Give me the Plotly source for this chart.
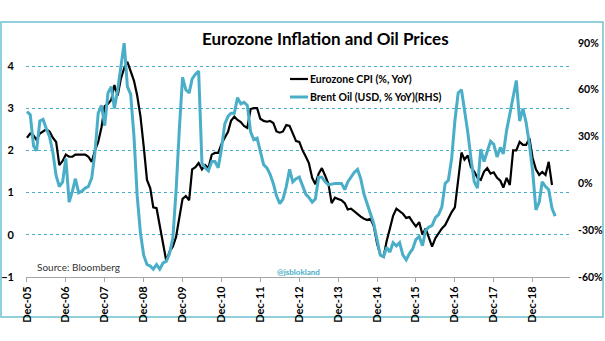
import pandas as pd
import plotly.graph_objects as go

# Monthly series, Dec 2005 onwards
start_month = "2005-12-01"

cpi_yoy = [
    2.3, 2.4, 2.35, 2.25, 2.4, 2.45, 2.5, 2.45, 2.3, 2.2, 1.65, 1.75,          # Dec05-Nov06
    1.9, 1.85, 1.85, 1.9, 1.9, 1.9, 1.9, 1.85, 1.73, 2.0, 2.2, 2.55,           # Dec06-Nov07
    3.05, 3.1, 3.2, 3.55, 3.3, 3.7, 3.95, 4.1, 3.85, 3.65, 3.3, 2.8,           # Dec07-Nov08
    2.1, 1.3, 1.1, 0.65, 0.63, 0.2, -0.2, -0.62, -0.4, -0.28, -0.05, 0.45,     # Dec08-Nov09
    0.85, 0.92, 0.82, 1.55, 1.6, 1.7, 1.55, 1.65, 1.58, 1.9, 1.94, 1.94,       # Dec09-Nov10
    2.15, 2.3, 2.44, 2.7, 2.8, 2.72, 2.67, 2.58, 2.53, 2.98, 3.0, 3.0,         # Dec10-Nov11
    2.75, 2.7, 2.68, 2.7, 2.65, 2.45, 2.42, 2.45, 2.6, 2.58, 2.38, 2.22,       # Dec11-Nov12
    2.2, 2.0, 1.85, 1.7, 1.35, 1.2, 1.45, 1.58, 1.4, 1.2, 0.75, 0.88,          # Dec12-Nov13
    0.85, 0.82, 0.75, 0.6, 0.62, 0.55, 0.5, 0.43, 0.38, 0.35, 0.38, 0.2,       # Dec13-Nov14
    -0.2, -0.48, -0.52, -0.15, 0.15, 0.45, 0.62, 0.55, 0.5, 0.4, 0.42, 0.3,    # Dec14-Nov15
    0.2, 0.3, 0.0, 0.15, -0.05, -0.28, -0.08, 0.05, 0.15, 0.23, 0.4, 0.54,     # Dec15-Nov16
    0.65, 1.35, 1.95, 1.78, 1.88, 1.6, 1.5, 1.35, 1.3, 1.5, 1.58, 1.45,        # Dec16-Nov17
    1.48, 1.35, 1.28, 1.12, 1.35, 1.18, 2.0, 2.0, 2.2, 2.13, 2.13, 2.29,       # Dec17-Nov18
    1.82, 1.55, 1.42, 1.49, 1.42, 1.73, 1.18,                                  # Dec18-Jun19
]

brent_yoy = [
    46, 44, 24, 21, 40, 41, 35, 30, 20, 5, -2, 1,                              # Dec05-Nov06
    16, -12, -5, 3, -6, -5, -3, -2, 3.5, 20, 45, 50,                           # Dec06-Nov07
    37, 58, 62, 48, 60, 75, 90, 62, 57, 30, -8, -32,                           # Dec07-Nov08
    -46, -52, -53, -55, -52, -55, -51, -50, -45, -35, -5, 35,                  # Dec08-Nov09
    68, 60, 58, 67, 70, 72, 13, 10, 8, 14, 14, 10,                             # Dec09-Nov10
    22, 38, 43, 45, 45, 55, 51, 52, 50, 33, 28, 29,                            # Dec10-Nov11
    20, 12, 10, 6, 0, -8, -13, -10, -2, 9, 1, 3,                               # Dec11-Nov12
    4, -2, -7, -9, -12, -10, 4, 4, 1, -1, -0.5, 0,                             # Dec12-Nov13
    0, 0, -4, 1, 4, 7, 9, 3, -7, -13, -19, -26,                                # Dec13-Nov14
    -36, -46, -47, -41, -44, -38, -40, -38, -46, -49, -45, -42,                # Dec14-Nov15
    -36, -34, -40, -30, -28, -27, -22, -20, -15, 0, 2, 16,                     # Dec15-Nov16
    40, 58, 60, 48, 33, 16, 1, -3, 22, 14, 21, 27,                             # Dec16-Nov17
    25, 17, 23, 19, 34, 45, 55, 66, 40, 48, 39, 25,                            # Dec17-Nov18
    8, -17, -12, 1, -2, -4, -16, -21,                                          # Dec18-Jul19
]

year_ticks = [f"{y}-12-01" for y in range(2005, 2019)]
left_ticks = [-1, 0, 1, 2, 3, 4]
right_ticks = [-60, -30, 0, 30, 60, 90]
right_tick_text = [f"{v}%" for v in right_ticks]

cpi_dates = pd.date_range(start_month, periods=len(cpi_yoy), freq="MS")
brent_dates = pd.date_range(start_month, periods=len(brent_yoy), freq="MS")

TEAL = "#4aaec8"
FRAME = "#6cc0d0"
FONT = "Lato"

fig = go.Figure()
fig.add_trace(go.Scatter(
    x=brent_dates, y=brent_yoy, yaxis="y2", mode="lines",
    name="Brent Oil (USD, % YoY)(RHS)", line=dict(color=TEAL, width=3),
    showlegend=False,
))
fig.add_trace(go.Scatter(
    x=cpi_dates, y=cpi_yoy, mode="lines",
    name="Eurozone CPI (%, YoY)", line=dict(color="#000000", width=2.2),
    showlegend=False,
))

# Plot area spans 26..570 px horizontally and 43..277 px vertically
L, R, T, B = 26, 570, 43, 277
W, H = R - L, B - T


def px(x):
    return (x - L) / W


def py(y):
    return (B - y) / H


fig.update_layout(
    width=605, height=341,
    margin=dict(l=L, r=605 - R, t=T, b=341 - B, pad=0, autoexpand=False),
    paper_bgcolor="white", plot_bgcolor="white",
    font=dict(family=FONT, size=10, color="#000000"),
    xaxis=dict(
        type="date", range=["2005-11-22", "2019-11-17"],
        tickvals=year_ticks, tickformat="%b-%y", tickangle=-90,
        tickfont=dict(family=FONT, size=11, color="#000000", weight="bold"),
        showgrid=False, zeroline=False, automargin=False,
        showline=True, linecolor="#a6a6a6", linewidth=1,
        ticks="outside", ticklen=4, tickcolor="#a6a6a6",
    ),
    yaxis=dict(
        range=[-1, 4.545], tickvals=left_ticks,
        tickfont=dict(family=FONT, size=11, color="#000000", weight="bold"),
        showgrid=True, gridcolor=TEAL, griddash="dot", gridwidth=1,
        zeroline=False, showline=False, ticks="", ticklabelstandoff=11,
        automargin=False,
    ),
    yaxis2=dict(
        range=[-60, 90], tickvals=right_ticks, ticktext=right_tick_text,
        overlaying="y", side="right",
        tickfont=dict(family=FONT, size=10.5, color="#000000", weight="bold"),
        showgrid=False, zeroline=False, showline=False, ticks="",
        ticklabelstandoff=7, automargin=False,
    ),
)

# Outer frame
fig.add_shape(type="rect", xref="paper", yref="paper",
              x0=px(1), x1=px(603), y0=py(317), y1=py(22),
              line=dict(color=FRAME, width=1.5), fillcolor="rgba(0,0,0,0)",
              layer="below")

# Title
fig.add_annotation(text="<b>Eurozone Inflation and Oil Prices</b>",
                   xref="paper", yref="paper", x=px(325), y=py(38),
                   showarrow=False, xanchor="center", yanchor="middle",
                   font=dict(family=FONT, size=17, color="#000000"))

# Legend
legend_items = [("Eurozone CPI (%, YoY)", "#000000", 2.2, 79),
                ("Brent Oil (USD, % YoY)(RHS)", TEAL, 3, 97)]
for label, color, width, ypix in legend_items:
    fig.add_shape(type="line", xref="paper", yref="paper",
                  x0=px(290), x1=px(308), y0=py(ypix), y1=py(ypix),
                  line=dict(color=color, width=width))
    fig.add_annotation(text=f"<b>{label}</b>", xref="paper", yref="paper",
                       x=px(308), y=py(ypix), showarrow=False,
                       xanchor="left", yanchor="middle",
                       font=dict(family=FONT, size=10.5, color="#000000"))

# Source and handle
fig.add_annotation(text="Source: Bloomberg", xref="paper", yref="paper",
                   x=px(35), y=py(267), showarrow=False,
                   xanchor="left", yanchor="middle",
                   font=dict(family=FONT, size=10, color="#333333"))
fig.add_annotation(text="<b>@jsblokland</b>", xref="paper", yref="paper",
                   x=px(298), y=py(272), showarrow=False,
                   xanchor="center", yanchor="middle",
                   font=dict(family=FONT, size=8, color=TEAL))

fig.write_html("out.html")
